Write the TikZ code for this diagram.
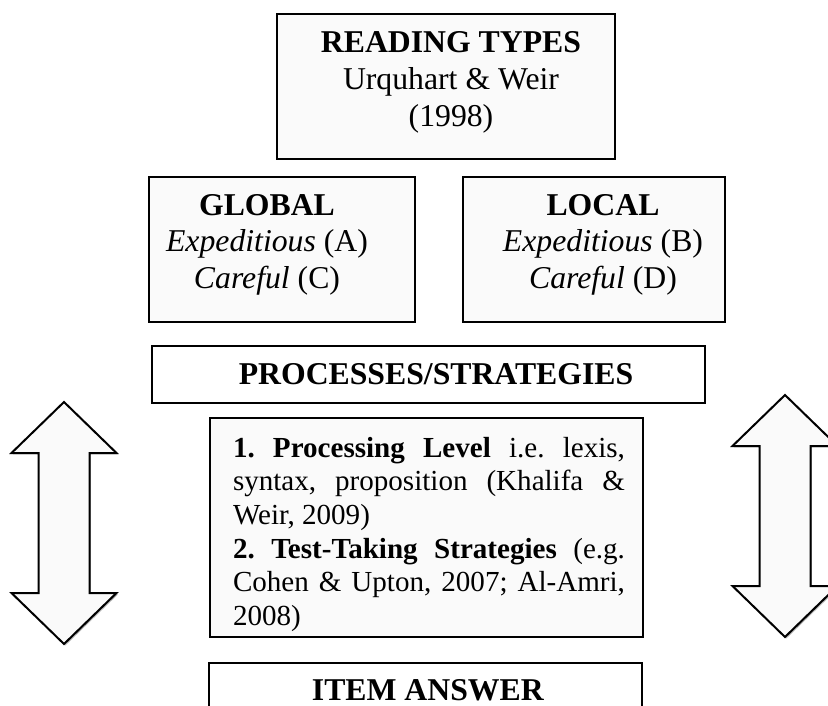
\documentclass[tikz,border=0pt]{standalone}
\usepackage{fontspec}
\setmainfont{Liberation Serif}
\usetikzlibrary{shadows,fit}
\definecolor{panelfill}{HTML}{FAFAFA}
\frenchspacing
\begin{document}
\begin{tikzpicture}[x=0.75pt,y=-0.75pt,
  panel/.style={draw=black, line width=1.5pt, fill=panelfill, inner sep=0pt,
    drop shadow={shadow xshift=1.1pt, shadow yshift=-1.1pt, fill=black!45, opacity=0.8}},
  plainpanel/.style={draw=black, line width=1.3pt, fill=white, inner sep=0pt},
  label/.style={anchor=base, inner sep=0pt},
  bigtext/.style={font=\fontsize{23.8}{27.4}\selectfont},
  arrowbody/.style={draw=black, line width=1.5pt, fill=panelfill, line join=miter,
    drop shadow={shadow xshift=1.1pt, shadow yshift=-1.1pt, fill=black!40, opacity=0.7}},
  updown/.pic={
    \draw[arrowbody] (0,0) -- (52.5,51) -- (25.5,51) -- (25.5,191) -- (52.5,191)
      -- (0,242) -- (-52.5,191) -- (-25.5,191) -- (-25.5,51) -- (-52.5,51) -- cycle;
  }
]
\useasboundingbox (0,0) rectangle (828,706);

% frames
\node[panel, fit={(277,14) (615,159)}] (types) {};
\node[panel, fit={(149,177) (415,322)}] (global) {};
\node[panel, fit={(463,177) (725,322)}] (local) {};
\node[plainpanel, fit={(152,346) (705,403)}] (procs) {};
\node[panel, fit={(210,418) (643,637)}] (detail) {};
\node[plainpanel, line width=1.5pt, fit={(209,663) (642,730)}] (answer) {};

% two-way arrows at the sides
\pic (leftarrow) at (64,402) {updown};
\pic (rightarrow) at (785,395) {updown};

% texts
\node[label, bigtext] (typestext) at (451,53) {\parbox[t]{300pt}{\centering
  \textbf{READING TYPES}\\ Urquhart \& Weir\\ (1998)}};
\node[label, bigtext] (globaltext) at (267,215) {\parbox[t]{190pt}{\centering
  \textbf{GLOBAL}\\ \textit{Expeditious} (A)\\ \textit{Careful} (C)}};
\node[label, bigtext] (localtext) at (603,215) {\parbox[t]{190pt}{\centering
  \textbf{LOCAL}\\ \textit{Expeditious} (B)\\ \textit{Careful} (D)}};
\node[label, bigtext] (procstext) at (436,384) {\textbf{PROCESSES/STRATEGIES}};
\node[label] (detailtext) at (429,457) {\parbox[t]{294pt}{%
  \fontsize{21.8}{25.3}\selectfont
  \tolerance=10000 \hyphenpenalty=10000 \exhyphenpenalty=10000
  \textbf{1. Processing Level} i.e. lexis,\linebreak
  syntax, proposition (Khalifa \&\linebreak
  Weir, 2009)\\
  \textbf{2. Test-Taking Strategies} (e.g.\linebreak
  Cohen \& Upton, 2007; Al-Amri,\linebreak
  2008)}};
\node[label, bigtext] (answertext) at (428,700) {\textbf{ITEM ANSWER}};
\end{tikzpicture}
\end{document}
